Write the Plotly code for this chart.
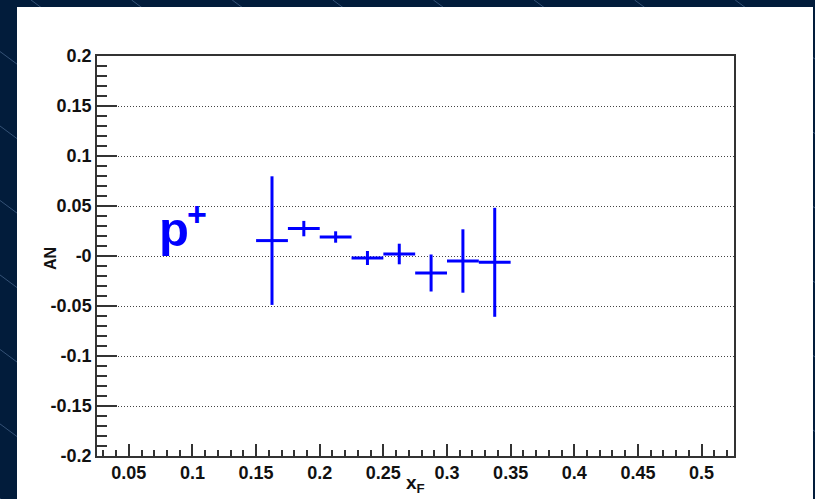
import plotly.graph_objects as go

# ---- data ----
xf = [0.1625, 0.1875, 0.2125, 0.2375, 0.2625, 0.2875, 0.3125, 0.3375]
an = [0.0154, 0.0274, 0.0190, -0.0020, 0.0020, -0.0170, -0.0050, -0.0063]
an_err = [0.0643, 0.0077, 0.0057, 0.0070, 0.0103, 0.0185, 0.0317, 0.0545]
xf_halfwidth = [0.0125] * 8

x_tickvals = [0.05, 0.1, 0.15, 0.2, 0.25, 0.3, 0.35, 0.4, 0.45, 0.5]
x_ticktext = ["0.05", "0.1", "0.15", "0.2", "0.25", "0.3", "0.35", "0.4", "0.45", "0.5"]
y_tickvals = [-0.2, -0.15, -0.1, -0.05, 0.0, 0.05, 0.1, 0.15, 0.2]
y_ticktext = ["-0.2", "-0.15", "-0.1", "-0.05", "-0", "0.05", "0.1", "0.15", "0.2"]

# ---- layout geometry (pixels) ----
W, H = 815, 499
ML, MR, MT, MB = 97, 81, 56, 43
PW, PH = W - ML - MR, H - MT - MB


def px_x(px):
    return (px - ML) / PW


def px_y(py):
    return (H - MB - py) / PH


NAVY = "#021c3b"
BLUE = "#0000ff"
FONT = "Liberation Sans"
TXT = "#111111"

fig = go.Figure()
fig.add_trace(go.Scatter(
    x=xf, y=an, mode="markers",
    marker=dict(size=0.1, color=BLUE),
    error_y=dict(type="data", array=an_err, visible=True, color=BLUE,
                 thickness=3, width=0),
    error_x=dict(type="data", array=xf_halfwidth, visible=True, color=BLUE,
                 thickness=3, width=0),
    showlegend=False, hoverinfo="x+y",
))

shapes = []
# decorative diagonal stripes on the dark background
for k in range(-8, 9):
    x0 = 31 + 100.6 * k
    shapes.append(dict(type="line", xref="paper", yref="paper",
                       x0=px_x(x0), y0=px_y(0), x1=px_x(x0 + 674), y1=px_y(499),
                       line=dict(color="rgba(95,125,165,0.55)", width=1),
                       layer="below"))
# white canvas panel
shapes.append(dict(type="rect", xref="paper", yref="paper",
                   x0=px_x(17), x1=px_x(813), y0=px_y(499) - 0.05, y1=px_y(7),
                   fillcolor="white", line=dict(width=0), layer="below"))

axis_common = dict(
    showline=True, linecolor="#333", linewidth=1.5, mirror=True,
    ticks="inside", tickcolor="#333", tickwidth=1.5,
    tickfont=dict(family=FONT, size=18, color=TXT, weight=700),
    zeroline=False,
)

fig.update_layout(
    width=W, height=H, autosize=False,
    margin=dict(l=ML, r=MR, t=MT, b=MB, pad=0),
    paper_bgcolor=NAVY, plot_bgcolor="white",
    shapes=shapes,
    xaxis=dict(
        range=[0.025, 0.5255], tickmode="array",
        tickvals=x_tickvals, ticktext=x_ticktext, ticklen=12,
        showgrid=False,
        minor=dict(tickmode="linear", tick0=0, dtick=0.01, ticklen=6,
                   ticks="inside", tickcolor="#333", tickwidth=1.5, showgrid=False),
        **axis_common,
    ),
    yaxis=dict(
        range=[-0.2, 0.2], tickmode="array",
        tickvals=y_tickvals, ticktext=y_ticktext, ticklen=20,
        showgrid=True, gridcolor="#444", gridwidth=1, griddash="1px,2px",
        minor=dict(tickmode="linear", tick0=0, dtick=0.01, ticklen=10,
                   ticks="inside", tickcolor="#333", tickwidth=1.5, showgrid=False),
        **axis_common,
    ),
    annotations=[
        dict(text="p", x=px_x(174), y=px_y(229), xref="paper", yref="paper",
             xanchor="center", yanchor="middle", showarrow=False,
             font=dict(family=FONT, size=49, color=BLUE, weight=700)),
        dict(text="+", x=px_x(196.5), y=px_y(214), xref="paper", yref="paper",
             xanchor="center", yanchor="middle", showarrow=False,
             font=dict(family=FONT, size=34, color=BLUE, weight=700)),
        dict(text="AN", x=px_x(50), y=px_y(259), xref="paper", yref="paper",
             xanchor="center", yanchor="middle", textangle=-90, showarrow=False,
             font=dict(family=FONT, size=16, color=TXT, weight=700)),
        dict(text="x<sub>F</sub>", x=px_x(416), y=px_y(484), xref="paper", yref="paper",
             xanchor="center", yanchor="middle", showarrow=False,
             font=dict(family=FONT, size=19, color=TXT, weight=700)),
    ],
)

fig.write_html("out.html")
